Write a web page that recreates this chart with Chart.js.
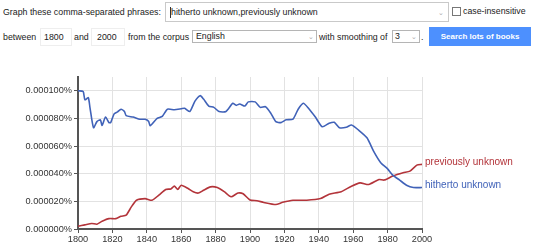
<!DOCTYPE html>
<html lang="en">
<head>
<meta charset="UTF-8">
<title>Ngram</title>
<script src="https://cdn.jsdelivr.net/npm/chart.js"></script>
<style>
    body {
        margin: 0;
        width: 540px;
        height: 246px;
        background: #fff;
        font-family: Arial, 'Liberation Sans', sans-serif;
        font-size: 8.8px;
        color: #222;
        position: relative;
        overflow: hidden;
    }
    .t { position: absolute; white-space: nowrap; line-height: 12px; }
    .box { position: absolute; box-sizing: border-box; background: #fff; }
    .arrow { position: absolute; color: #aaa; font-size: 7px; line-height: 8px; }
    #chartWrap { position: absolute; left: 0; top: 60px; width: 540px; height: 186px; }
</style>
</head>
<body>
    <!-- row 1 -->
    <div class="t" style="left:3px; top:6px;">Graph these comma-separated phrases:</div>
    <div class="box" style="left:165px; top:2px; width:284px; height:20px; border:1px solid #c9c9c9;"></div>
    <div style="position:absolute; left:170px; top:7px; width:1px; height:11px; background:#333;"></div>
    <div class="t" style="left:171px; top:6px;">hitherto unknown,previously unknown</div>
    <div class="arrow" style="left:438px; top:9px;">&#8964;</div>
    <div class="box" style="left:452px; top:7px; width:9px; height:9px; border:1px solid #777;"></div>
    <div class="t" style="left:463px; top:5px;">case-insensitive</div>

    <!-- row 2 -->
    <div class="t" style="left:3px; top:31px;">between</div>
    <div class="box" style="left:40px; top:28px; width:32px; height:18px; border:1px solid #eee;"></div>
    <div class="t" style="left:44px; top:31px;">1800</div>
    <div class="t" style="left:74px; top:31px;">and</div>
    <div class="box" style="left:91px; top:28px; width:34px; height:18px; border:1px solid #eee;"></div>
    <div class="t" style="left:97px; top:31px;">2000</div>
    <div class="t" style="left:128px; top:31px;">from the corpus</div>
    <div class="box" style="left:192px; top:30px; width:125px; height:13px; border:1px solid #b5b5b5;"></div>
    <div class="t" style="left:196px; top:30px;">English</div>
    <div class="arrow" style="left:308px; top:33px;">&#8964;</div>
    <div class="t" style="left:319px; top:31px;">with smoothing of</div>
    <div class="box" style="left:392px; top:30px; width:28px; height:13px; border:1px solid #b5b5b5;"></div>
    <div class="t" style="left:395px; top:30px;">3</div>
    <div class="arrow" style="left:411px; top:33px;">&#8964;</div>
    <div class="t" style="left:421px; top:31px;">.</div>
    <div style="position:absolute; left:429px; top:27px; width:102px; height:19px; background:#4d90fe; color:#fff; font-weight:bold; font-size:8px; line-height:19px; text-align:center;">Search lots of books</div>

    <div id="chartWrap"><canvas id="ngramChart" width="540" height="186"></canvas></div>

<script>
    // values in units of 0.000001 %
    const hithertoYears = [1800, 1803, 1804, 1806, 1807, 1809, 1811, 1813, 1814, 1816, 1818, 1819, 1821, 1823, 1825, 1827, 1828, 1832, 1836, 1839, 1841, 1842, 1846, 1849, 1852, 1856, 1860, 1862, 1865, 1868, 1871, 1873, 1876, 1879, 1882, 1886, 1890, 1892, 1894, 1897, 1899, 1903, 1906, 1909, 1912, 1915, 1918, 1921, 1925, 1928, 1931, 1934, 1938, 1942, 1946, 1949, 1952, 1956, 1959, 1963, 1968, 1972, 1976, 1980, 1983, 1987, 1991, 1995, 2000];
    const hitherto = [100, 99.5, 93.5, 95, 87.5, 73.3, 77.7, 79, 75, 81, 77, 77, 83.3, 84.7, 86.7, 85, 82, 81, 79.4, 79.4, 78, 74.8, 80, 81.5, 86.7, 86.3, 87, 87.4, 85, 92.5, 96.5, 94, 89, 88, 85, 85, 91, 89.5, 90.5, 89, 92, 92, 88, 88.5, 84, 77.7, 77, 79, 79.5, 86.7, 91, 87.4, 81, 74, 76.5, 77.2, 73.3, 73.6, 75.3, 71.7, 66, 56, 48, 43.5, 39, 35.4, 31.7, 30, 30];

    const previouslyYears = [1800, 1804, 1808, 1811, 1814, 1818, 1822, 1825, 1828, 1831, 1834, 1839, 1843, 1847, 1851, 1854, 1856, 1858, 1860, 1864, 1867, 1870, 1873, 1877, 1881, 1885, 1889, 1893, 1896, 1900, 1904, 1908, 1915, 1919, 1925, 1933, 1941, 1946, 1953, 1959, 1964, 1969, 1975, 1978, 1983, 1989, 1993, 1997, 2000];
    const previously = [2, 3, 4, 3.5, 5.6, 7.5, 7.5, 9.2, 10, 16, 20.8, 22, 20.8, 24.5, 28.6, 29, 31, 28.6, 31.7, 29.3, 26.9, 26, 28, 30.5, 30, 27, 23.3, 26, 25.5, 21, 20.5, 19.2, 17.7, 19.3, 20.8, 20.8, 22, 25.2, 26.9, 31, 33.4, 32.2, 35.8, 35.4, 38.3, 40.7, 41.9, 46.2, 46.8];

    const seriesNames = ['hitherto unknown', 'previously unknown'];
    const seriesColors = ['#4062b8', '#b3343a'];

    function toPoints(years, values) {
        const pts = [];
        for (let i = 0; i < years.length; i++) {
            pts.push({ x: years[i], y: values[i] });
        }
        return pts;
    }

    // draws the phrase names next to the last point of each line
    const endLabels = {
        id: 'endLabels',
        afterDatasetsDraw(chart) {
            const ctx = chart.ctx;
            ctx.save();
            ctx.font = '10px Arial, "Liberation Sans", sans-serif';
            ctx.textBaseline = 'middle';
            chart.data.datasets.forEach((ds, i) => {
                const meta = chart.getDatasetMeta(i);
                const last = meta.data[meta.data.length - 1];
                ctx.fillStyle = ds.borderColor;
                ctx.fillText(ds.label, last.x + 3, last.y - 2);
            });
            ctx.restore();
        }
    };

    const tickFont = { family: 'Arial, "Liberation Sans", sans-serif', size: 9.2 };

    new Chart(document.getElementById('ngramChart'), {
        type: 'line',
        data: {
            datasets: [
                {
                    label: seriesNames[0],
                    data: toPoints(hithertoYears, hitherto),
                    borderColor: seriesColors[0],
                    borderWidth: 1.6,
                    pointRadius: 0,
                    tension: 0.2,
                    fill: false
                },
                {
                    label: seriesNames[1],
                    data: toPoints(previouslyYears, previously),
                    borderColor: seriesColors[1],
                    borderWidth: 1.6,
                    pointRadius: 0,
                    tension: 0.2,
                    fill: false
                }
            ]
        },
        options: {
            responsive: false,
            devicePixelRatio: 1,
            animation: false,
            layout: { padding: { top: 17, right: 118, left: 0, bottom: 0 } },
            plugins: {
                legend: { display: false },
                tooltip: { enabled: false }
            },
            scales: {
                x: {
                    type: 'linear',
                    min: 1800,
                    max: 2000,
                    afterFit: (scale) => { scale.height = 17; },
                    ticks: {
                        stepSize: 20,
                        color: '#333',
                        font: tickFont,
                        padding: 1,
                        maxRotation: 0,
                        callback: (v) => String(v)
                    },
                    grid: { color: '#e2e2e2', tickColor: '#555', tickLength: 4 },
                    border: { color: '#555', width: 2 }
                },
                y: {
                    min: 0,
                    max: 110,
                    afterFit: (scale) => { scale.width = 78; },
                    afterBuildTicks: (scale) => {
                        scale.ticks = scale.ticks.filter(t => t.value <= 100);
                    },
                    ticks: {
                        stepSize: 20,
                        color: '#333',
                        font: tickFont,
                        padding: 2,
                        callback: (v) => (v / 1000000).toFixed(6) + '%'
                    },
                    grid: { color: '#e2e2e2', tickColor: '#555', tickLength: 4 },
                    border: { color: '#555', width: 2 }
                }
            }
        },
        plugins: [endLabels]
    });
</script>
</body>
</html>
